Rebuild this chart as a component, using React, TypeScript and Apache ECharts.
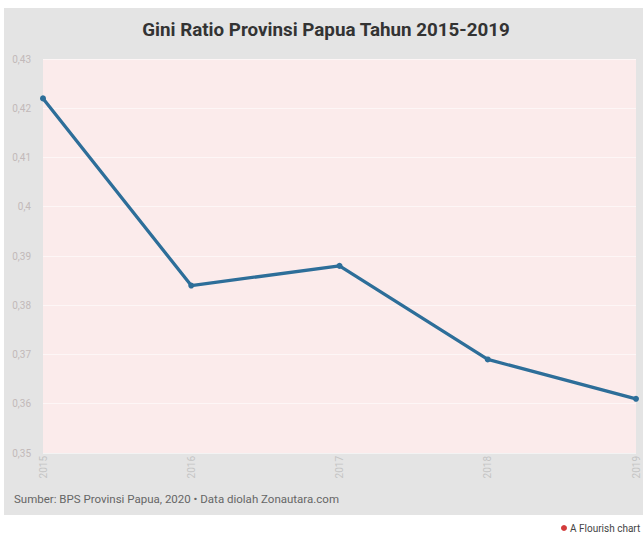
import React, { useEffect, useRef } from "react";
import * as echarts from "echarts";

const years = ["2015", "2016", "2017", "2018", "2019"];
const giniValues = [0.422, 0.384, 0.388, 0.369, 0.361];
const titleText = "Gini Ratio Provinsi Papua Tahun 2015-2019";
const sourceText = "Sumber: BPS Provinsi Papua, 2020 • Data diolah Zonautara.com";
const creditText = "A Flourish chart";

export default function App() {
  const ref = useRef<HTMLDivElement>(null);
  useEffect(() => {
    if (!ref.current) return;
    const chart = echarts.init(ref.current, null, { renderer: "svg" });
    chart.setOption({
      animation: false,
      backgroundColor: "#ffffff",
      textStyle: { fontFamily: "Roboto" },
      graphic: [
        {
          type: "rect",
          z: -10,
          silent: true,
          shape: { x: 4, y: 8, width: 639, height: 507 },
          style: { fill: "#e4e4e4" },
        },
        {
          type: "text",
          x: 326,
          y: 30,
          style: {
            text: titleText,
            fill: "#333333",
            fontSize: 18.8,
            fontWeight: "bold",
            fontFamily: "Roboto",
            align: "center",
            verticalAlign: "middle",
          },
        },
        {
          type: "text",
          x: 14,
          y: 499,
          style: {
            text: sourceText,
            fill: "#666666",
            fontSize: 11.5,
            fontFamily: "Roboto",
            verticalAlign: "middle",
          },
        },
        {
          type: "circle",
          shape: { cx: 564, cy: 528, r: 3 },
          style: { fill: "#d33b3b" },
        },
        {
          type: "text",
          x: 570,
          y: 528,
          style: {
            text: creditText,
            fill: "#444444",
            fontSize: 10,
            fontFamily: "Roboto",
            verticalAlign: "middle",
          },
        },
      ],
      grid: {
        left: 43,
        right: 7,
        top: 59,
        bottom: 80,
        show: true,
        backgroundColor: "#fbebeb",
        borderWidth: 0,
      },
      xAxis: {
        type: "category",
        data: years,
        boundaryGap: false,
        axisLine: { show: false },
        axisTick: { show: false },
        splitLine: { show: false },
        axisLabel: {
          rotate: 90,
          color: "#c4c4c4",
          fontSize: 10,
          margin: 3,
          interval: 0,
        },
      },
      yAxis: {
        type: "value",
        min: 0.35,
        max: 0.43,
        interval: 0.01,
        axisLine: { show: false },
        axisTick: { show: false },
        splitLine: { show: true, lineStyle: { color: "rgba(255,255,255,0.55)", width: 1 } },
        axisLabel: {
          color: "#c2b9b9",
          fontSize: 10,
          margin: 12,
          formatter: (v: number) => String(Number(v.toFixed(2))).replace(".", ","),
        },
      },
      series: [
        {
          type: "line",
          data: giniValues,
          symbol: "circle",
          symbolSize: 6,
          lineStyle: { color: "#2d6e99", width: 3.3 },
          itemStyle: { color: "#2d6e99" },
        },
      ],
    });
    return () => chart.dispose();
  }, []);
  return (
    <div
      ref={ref}
      style={{ position: "absolute", left: 0, top: 0, width: 643, height: 533 }}
    />
  );
}
